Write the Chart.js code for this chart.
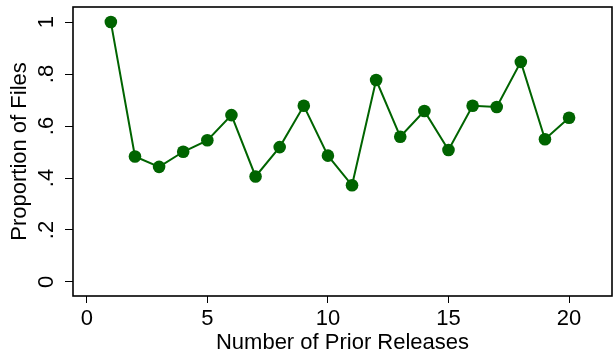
<!DOCTYPE html>
<html>
<head>
<meta charset="utf-8">
<script src="https://cdn.jsdelivr.net/npm/chart.js@4/dist/chart.umd.min.js"></script>
<style>
  html, body { margin: 0; padding: 0; background: #fff; }
  #wrap { width: 613px; height: 358px; }
</style>
</head>
<body>
<div id="wrap"><canvas id="releaseChart"></canvas></div>
<script>
// values
const priorReleases = [1, 2, 3, 4, 5, 6, 7, 8, 9, 10, 11, 12, 13, 14, 15, 16, 17, 18, 19, 20];
const proportionOfFiles = [1.0, 0.483, 0.443, 0.501, 0.545, 0.642, 0.406, 0.519, 0.678, 0.486,
    0.372, 0.777, 0.559, 0.658, 0.508, 0.678, 0.673, 0.847, 0.549, 0.632];
const xTickValues = [0, 5, 10, 15, 20];
const yTickValues = [0, 0.2, 0.4, 0.6, 0.8, 1];
const yTickLabels = ['0', '.2', '.4', '.6', '.8', '1'];

const FONT = '"Liberation Sans", Arial, Helvetica, sans-serif';
const green = 'rgb(0,100,0)';

// frame around plot + rotated y labels (stata style)
const stataAxes = {
    id: 'stataAxes',
    afterDraw(chart) {
        const { ctx, chartArea } = chart;
        const y = chart.scales.y;
        ctx.save();
        ctx.strokeStyle = '#000';
        ctx.lineWidth = 1.6;
        ctx.strokeRect(chartArea.left, chartArea.top,
            chartArea.right - chartArea.left, chartArea.bottom - chartArea.top);

        ctx.fillStyle = '#000';
        ctx.font = '22px ' + FONT;
        ctx.textAlign = 'center';
        ctx.textBaseline = 'alphabetic';
        yTickValues.forEach((v, i) => {
            ctx.save();
            ctx.translate(53, y.getPixelForValue(v));
            ctx.rotate(-Math.PI / 2);
            ctx.fillText(yTickLabels[i], 0, 0);
            ctx.restore();
        });

        ctx.save();
        ctx.translate(26, (chartArea.top + chartArea.bottom) / 2);
        ctx.rotate(-Math.PI / 2);
        ctx.fillText('Proportion of Files', 0, 0);
        ctx.restore();
        ctx.restore();
    }
};

const ctx = document.getElementById('releaseChart').getContext('2d');
new Chart(ctx, {
    type: 'line',
    data: {
        datasets: [{
            data: priorReleases.map((x, i) => ({ x: x, y: proportionOfFiles[i] })),
            borderColor: green,
            backgroundColor: green,
            borderWidth: 2,
            pointRadius: 6.3,
            pointHoverRadius: 6.3,
            pointBorderWidth: 0,
            tension: 0
        }]
    },
    options: {
        responsive: true,
        maintainAspectRatio: false,
        animation: false,
        layout: {
            autoPadding: false,
            padding: { top: 7, right: 1, left: 0, bottom: 0 }
        },
        plugins: {
            legend: { display: false },
            tooltip: { enabled: false }
        },
        scales: {
            x: {
                type: 'linear',
                min: -0.57,
                max: 21.78,
                afterBuildTicks: (scale) => {
                    scale.ticks = xTickValues.map((v) => ({ value: v }));
                },
                afterFit: (scale) => {
                    scale.height = 62;
                    scale.paddingLeft = 0;
                    scale.paddingRight = 0;
                },
                grid: {
                    drawOnChartArea: false,
                    drawTicks: true,
                    tickLength: 7,
                    color: '#000',
                    lineWidth: 1
                },
                border: { display: false },
                ticks: {
                    color: '#000',
                    font: { family: FONT, size: 22 },
                    padding: 3,
                    maxRotation: 0
                },
                title: {
                    display: true,
                    text: 'Number of Prior Releases',
                    color: '#000',
                    font: { family: FONT, size: 22 },
                    padding: { top: 0, bottom: 2 }
                }
            },
            y: {
                type: 'linear',
                min: -0.054,
                max: 1.058,
                afterBuildTicks: (scale) => {
                    scale.ticks = yTickValues.map((v) => ({ value: v }));
                },
                afterFit: (scale) => {
                    scale.width = 73;
                    scale.paddingTop = 0;
                    scale.paddingBottom = 0;
                },
                grid: {
                    drawOnChartArea: false,
                    drawTicks: true,
                    tickLength: 8,
                    color: '#000',
                    lineWidth: 1
                },
                border: { display: false },
                ticks: { display: false }
            }
        }
    },
    plugins: [stataAxes]
});
</script>
</body>
</html>
